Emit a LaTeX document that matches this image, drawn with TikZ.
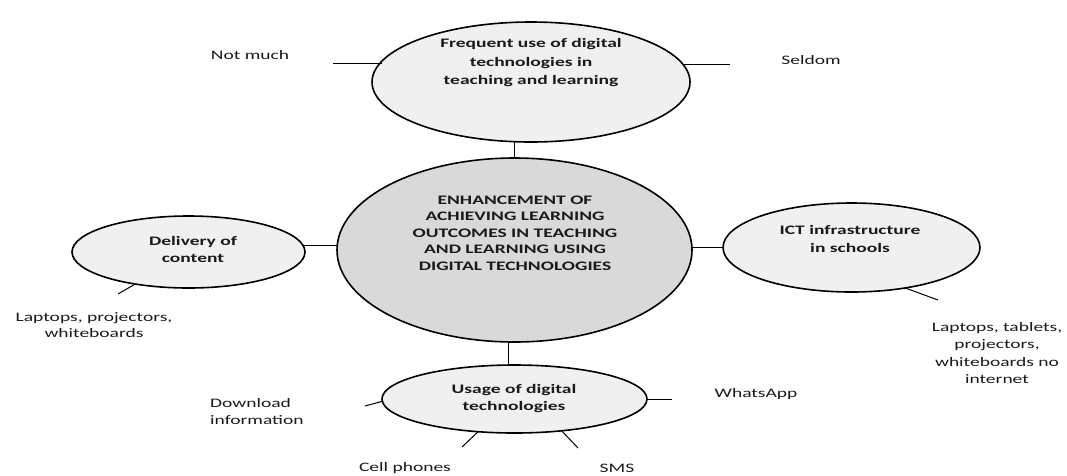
\documentclass[tikz,border=0pt]{standalone}
\usepackage{fontspec}
\setmainfont{Carlito}[FakeStretch=1.5]
\usetikzlibrary{shapes.geometric}
\definecolor{outerfill}{HTML}{F0F0F0}
\definecolor{centerfill}{HTML}{D9D9D9}
\definecolor{txt}{HTML}{1A1A1A}
\tikzset{
  ell/.style={ellipse, draw=black, line width=1.6pt, inner sep=0pt, outer sep=0pt, fill=outerfill},
  elltext/.style={font=\fontsize{13}{17}\selectfont\bfseries, align=center, text=txt, inner sep=0pt},
  lbl/.style={font=\fontsize{13}{17}\selectfont, align=center, text=txt, inner sep=0pt},
  conn/.style={draw=black, line width=1pt}
}
\begin{document}
\begin{tikzpicture}[x=1pt, y=-1pt]
\useasboundingbox (0,0) rectangle (1067,475);
\fill[white] (0,0) rectangle (1067,475);

% ellipses
\node[ell, minimum width=318pt, minimum height=120pt] (top) at (531,82) {};
\node[ell, fill=centerfill, minimum width=355pt, minimum height=184pt] (cen) at (514.5,250) {};
\node[ell, minimum width=233pt, minimum height=72pt] (lft) at (188.5,252) {};
\node[ell, minimum width=257pt, minimum height=89pt] (rgt) at (851.5,247.5) {};
\node[ell, minimum width=265pt, minimum height=68pt] (bot) at (514.5,399) {};

% ellipse texts
\node[elltext, font=\fontsize{13}{18.5}\selectfont\bfseries] (topT) at (531,63) {Frequent use of digital\\technologies in\\teaching and learning};
\node[elltext, font=\fontsize{13}{16.5}\selectfont\bfseries] (cenT) at (515,233) {ENHANCEMENT OF\\ACHIEVING LEARNING\\OUTCOMES IN TEACHING\\AND LEARNING USING\\DIGITAL TECHNOLOGIES};
\node[elltext] (lftT) at (193,249.5) {Delivery of\\content};
\node[elltext, font=\fontsize{13}{18}\selectfont\bfseries] (rgtT) at (850,239) {ICT infrastructure\\in schools};
\node[elltext] (botT) at (514,398.5) {Usage of digital\\technologies};

% outer labels
\node[lbl] (notmuch) at (250,55) {Not much};
\node[lbl] (seldom) at (811,60) {Seldom};
\node[lbl, font=\fontsize{13}{16}\selectfont] (lapL) at (94,325) {Laptops, projectors,\\whiteboards};
\node[lbl, font=\fontsize{13}{17.5}\selectfont] (lapR) at (997,353) {Laptops, tablets,\\projectors,\\whiteboards no\\internet};
\node[lbl, anchor=west, align=left] (dl) at (210,411.5) {Download\\information};
\node[lbl] (wa) at (756,394) {WhatsApp};
\node[lbl] (cell) at (405,468) {Cell phones};
\node[lbl] (sms) at (617,468) {SMS};

% free ends of the short ticks
\coordinate (cNot) at (333,63);
\coordinate (cSel) at (730,64);
\coordinate (cLapL) at (118,294);
\coordinate (cLapR) at (938,300);
\coordinate (cDl) at (365,406);
\coordinate (cWa) at (672,399);
\coordinate (cCell) at (462,447);
\coordinate (cSms) at (578,448);

% connectors between ellipses
\draw[conn] (cen.north) -- (cen.north |- top.south);
\draw[conn] (lft.3) -- (lft.3 -| cen.west);
\draw[conn] (rgt.west) -- (rgt.west -| cen.east);
\draw[conn] (bot.100.8) -- (bot.100.8 |- cen.south);

% ticks
\draw[conn] (cNot) -- (cNot -| top.172.8);
\draw[conn] (cSel) -- (cSel -| top.6.8);
\draw[conn] (lft.211.7) -- (cLapL);
\draw[conn] (rgt.323.6) -- (cLapR);
\draw[conn] (bot.181.7) -- (cDl);
\draw[conn] (bot.east) -- (cWa);
\draw[conn] (bot.222.3) -- (cCell);
\draw[conn] (bot.326) -- (cSms);
\end{tikzpicture}
\end{document}
